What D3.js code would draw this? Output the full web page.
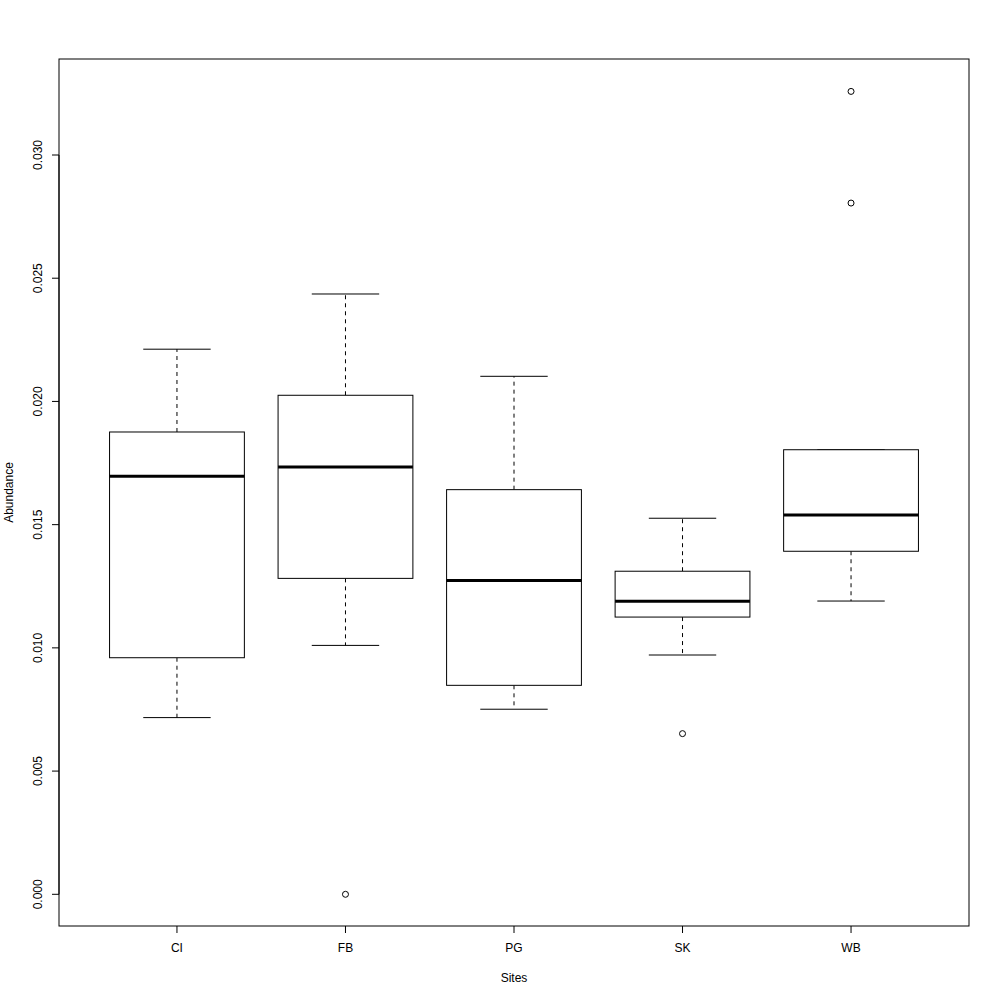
<!DOCTYPE html>
<html>
<head>
<meta charset="utf-8">
<script src="https://cdn.jsdelivr.net/npm/d3@7"></script>
<style>
  html, body { margin: 0; padding: 0; background: #fff; }
  svg { display: block; font-family: "Liberation Sans", Arial, Helvetica, sans-serif; }
</style>
</head>
<body>
<svg id="chart" width="1000" height="1000"></svg>
<script>
const sites = ["CI", "FB", "PG", "SK", "WB"];
const whiskerLow  = [0.00717, 0.01010, 0.00751, 0.00971, 0.01190];
const q1          = [0.00960, 0.01282, 0.00848, 0.01125, 0.01392];
const median      = [0.01696, 0.01734, 0.01273, 0.01189, 0.01539];
const q3          = [0.01876, 0.02025, 0.01642, 0.01311, 0.01804];
const whiskerHigh = [0.02212, 0.02436, 0.02102, 0.01526, 0.01804];
const outliers    = [[], [0.0], [], [0.00652], [0.03258, 0.02805]];
const yTicks = [0.000, 0.005, 0.010, 0.015, 0.020, 0.025, 0.030];
const xTitle = "Sites";
const yTitle = "Abundance";

const svg = d3.select("#chart");
svg.append("rect").attr("width", 1000).attr("height", 1000).attr("fill", "#fff");

const pLeft = 59, pRight = 969, pTop = 59, pBottom = 926;

const x = d3.scalePoint().domain(sites).range([pLeft, pRight]).padding(0.7);
const y = d3.scaleLinear().domain([0, 0.03]).range([894.3, 155]);
const step = x.step();
const boxW = 0.8 * step;
const capW = 0.5 * boxW;

const data = sites.map((s, i) => ({
  site: s, lo: whiskerLow[i], q1: q1[i], med: median[i], q3: q3[i], hi: whiskerHigh[i], out: outliers[i]
}));

const g = svg.append("g");

const groups = g.selectAll("g.box").data(data).enter().append("g").attr("class", "box");

// whiskers (dashed)
groups.append("line")
  .attr("x1", d => x(d.site)).attr("x2", d => x(d.site))
  .attr("y1", d => y(d.q3)).attr("y2", d => y(d.hi))
  .attr("stroke", "#000").attr("stroke-width", 1).attr("stroke-dasharray", "4,4");
groups.append("line")
  .attr("x1", d => x(d.site)).attr("x2", d => x(d.site))
  .attr("y1", d => y(d.q1)).attr("y2", d => y(d.lo))
  .attr("stroke", "#000").attr("stroke-width", 1).attr("stroke-dasharray", "4,4");
// staples
groups.append("line")
  .attr("x1", d => x(d.site) - capW / 2).attr("x2", d => x(d.site) + capW / 2)
  .attr("y1", d => y(d.hi)).attr("y2", d => y(d.hi))
  .attr("stroke", "#000").attr("stroke-width", 1);
groups.append("line")
  .attr("x1", d => x(d.site) - capW / 2).attr("x2", d => x(d.site) + capW / 2)
  .attr("y1", d => y(d.lo)).attr("y2", d => y(d.lo))
  .attr("stroke", "#000").attr("stroke-width", 1);
// box
groups.append("rect")
  .attr("x", d => x(d.site) - boxW / 2)
  .attr("width", boxW)
  .attr("y", d => y(d.q3))
  .attr("height", d => y(d.q1) - y(d.q3))
  .attr("fill", "#fff").attr("stroke", "#000").attr("stroke-width", 1);
// median
groups.append("line")
  .attr("x1", d => x(d.site) - boxW / 2).attr("x2", d => x(d.site) + boxW / 2)
  .attr("y1", d => y(d.med)).attr("y2", d => y(d.med))
  .attr("stroke", "#000").attr("stroke-width", 3);
// outliers
groups.each(function(d) {
  d3.select(this).selectAll("circle").data(d.out).enter().append("circle")
    .attr("cx", x(d.site)).attr("cy", v => y(v)).attr("r", 3)
    .attr("fill", "none").attr("stroke", "#000").attr("stroke-width", 1);
});

// plot frame
svg.append("rect")
  .attr("x", pLeft).attr("y", pTop).attr("width", pRight - pLeft).attr("height", pBottom - pTop)
  .attr("fill", "none").attr("stroke", "#000").attr("stroke-width", 1);

// y axis
const yAxis = svg.append("g");
yAxis.append("line").attr("x1", pLeft).attr("x2", pLeft)
  .attr("y1", y(yTicks[0])).attr("y2", y(yTicks[yTicks.length - 1]))
  .attr("stroke", "#000");
yTicks.forEach(t => {
  yAxis.append("line").attr("x1", pLeft - 7).attr("x2", pLeft)
    .attr("y1", y(t)).attr("y2", y(t)).attr("stroke", "#000");
  yAxis.append("text")
    .attr("transform", `translate(42,${y(t)}) rotate(-90)`)
    .attr("text-anchor", "middle")
    .attr("font-size", 12)
    .text(d3.format(".3f")(t));
});

// x axis
const xAxis = svg.append("g");
sites.forEach(s => {
  xAxis.append("line").attr("x1", x(s)).attr("x2", x(s))
    .attr("y1", pBottom).attr("y2", pBottom + 7).attr("stroke", "#000");
  xAxis.append("text")
    .attr("x", x(s)).attr("y", 952)
    .attr("text-anchor", "middle").attr("font-size", 12)
    .text(s);
});

// titles
svg.append("text").attr("x", (pLeft + pRight) / 2).attr("y", 982)
  .attr("text-anchor", "middle").attr("font-size", 12).text(xTitle);
svg.append("text").attr("transform", `translate(13,${(pTop + pBottom) / 2}) rotate(-90)`)
  .attr("text-anchor", "middle").attr("font-size", 12).text(yTitle);
</script>
</body>
</html>
